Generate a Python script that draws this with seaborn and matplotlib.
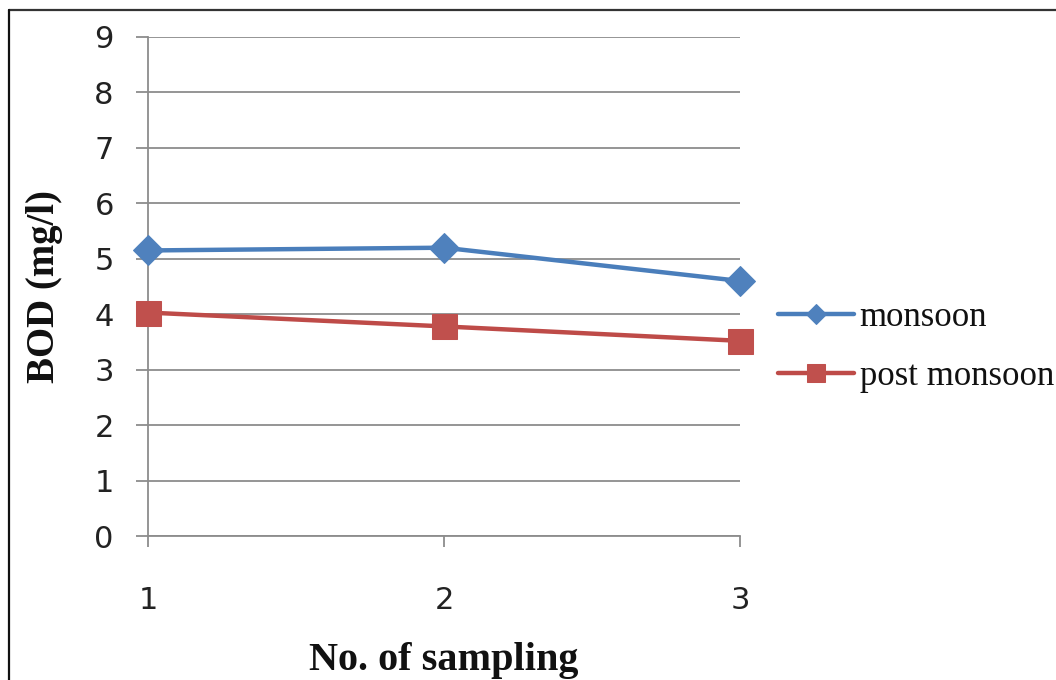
import matplotlib
matplotlib.use("Agg")
import matplotlib.pyplot as plt
from matplotlib.lines import Line2D
import seaborn as sns
import pandas as pd

# BOD readings per sampling round
samples = [1, 2, 3]
monsoon = [5.15, 5.2, 4.6]
post_monsoon = [4.03, 3.78, 3.52]
series_names = ["monsoon", "post monsoon"]
y_ticks = list(range(0, 10))

df = pd.DataFrame({
    "sample": samples * 2,
    "bod": monsoon + post_monsoon,
    "season": [series_names[0]] * 3 + [series_names[1]] * 3,
})

sns.set_theme(style="white")
plt.rcParams["font.family"] = ["DejaVu Sans"]

fig = plt.figure(figsize=(10.56, 6.8), dpi=100)
ax = fig.add_axes([148 / 1056, 1 - 536 / 680, (740 - 148) / 1056, (536 - 37) / 680])

grid_col = "#8c8c8c"
blue_line, blue_mark = "#4a7ebb", "#4f81bd"
red_line, red_mark = "#be4b48", "#c0504d"

sns.lineplot(data=df[df.season == series_names[0]], x="sample", y="bod",
             ax=ax, color=blue_line, lw=3.2, marker="D", markersize=15,
             markerfacecolor=blue_mark, markeredgecolor=blue_mark,
             label=series_names[0], clip_on=False, zorder=4)
sns.lineplot(data=df[df.season == series_names[1]], x="sample", y="bod",
             ax=ax, color=red_line, lw=3.2, marker="s", markersize=18,
             markerfacecolor=red_mark, markeredgecolor=red_mark,
             label=series_names[1], clip_on=False, zorder=4)

ax.set_xlim(1, 3)
ax.set_ylim(0, 9)
ax.set_xticks(samples)
ax.set_yticks(y_ticks)
ax.set_xticklabels([str(s) for s in samples])
ax.set_yticklabels([str(t) for t in y_ticks])

ax.yaxis.grid(True, color=grid_col, lw=1.3)
ax.xaxis.grid(False)
for side in ["top", "right"]:
    ax.spines[side].set_visible(False)
for side in ["left", "bottom"]:
    ax.spines[side].set_color(grid_col)
    ax.spines[side].set_linewidth(1.3)

ax.tick_params(axis="y", length=8.6, width=1.3, color=grid_col, pad=16,
               labelsize=22, labelcolor="#222222", left=True)
ax.tick_params(axis="x", length=8, width=1.3, color=grid_col, pad=28,
               labelsize=22, labelcolor="#222222", bottom=True)

label_font = dict(family="Liberation Serif", weight="bold", color="#111111")
ax.set_ylabel("BOD (mg/l)", fontsize=28, **label_font)
ax.set_xlabel("No. of sampling", fontsize=29, **label_font)
ax.yaxis.set_label_coords(-0.174, 0.5)
ax.xaxis.set_label_coords(0.5, -0.25)
ax.yaxis.label.set_va("center")
ax.xaxis.label.set_va("center")

leg = ax.legend(loc="center left", bbox_to_anchor=(778 / 1056, 1 - 347 / 680),
                bbox_transform=fig.transFigure, frameon=False,
                prop={"family": "Liberation Serif", "size": 25},
                handlelength=2.2, handletextpad=0.15, labelspacing=0.75,
                borderaxespad=0, borderpad=0)
for line, ms in zip(leg.get_lines(), [10, 13]):
    line.set_markersize(ms)
for t in leg.get_texts():
    t.set_color("#111111")

# outer frame: top and left edges only
fig.add_artist(Line2D([9 / 1056, 1], [1 - 10 / 680] * 2, transform=fig.transFigure,
                      color="#333333", lw=1.6))
fig.add_artist(Line2D([9 / 1056] * 2, [0, 1 - 10 / 680], transform=fig.transFigure,
                      color="#111111", lw=1.6))

fig.savefig("out.png", dpi=100)
